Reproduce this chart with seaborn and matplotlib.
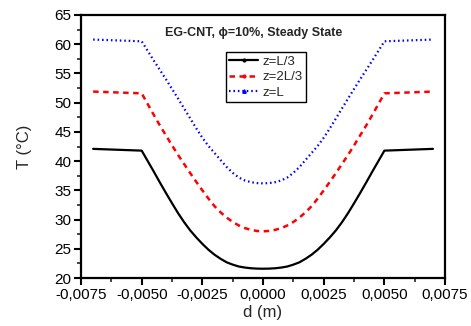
import matplotlib
matplotlib.use("Agg")
import matplotlib.pyplot as plt
import seaborn as sns
import pandas as pd
from matplotlib.lines import Line2D
from matplotlib.ticker import MultipleLocator, FuncFormatter

d = [-0.007, -0.005, -0.00475, -0.0045, -0.00425, -0.004, -0.00375, -0.0035, -0.00325, -0.003,
     -0.00275, -0.0025, -0.00225, -0.002, -0.00175, -0.0015, -0.00125, -0.001, -0.00075, -0.0005,
     -0.00025, 0.0, 0.00025, 0.0005, 0.00075, 0.001, 0.00125, 0.0015, 0.00175, 0.002, 0.00225,
     0.0025, 0.00275, 0.003, 0.00325, 0.0035, 0.00375, 0.004, 0.00425, 0.0045, 0.00475, 0.005, 0.007]
T_L3 = [42.1, 41.8, 40.0, 38.2, 36.35, 34.55, 32.8, 31.1, 29.55, 28.15, 26.95, 25.85, 24.85,
        24.0, 23.3, 22.7, 22.3, 21.98, 21.8, 21.68, 21.62, 21.6, 21.62, 21.68, 21.8, 21.98,
        22.3, 22.7, 23.3, 24.0, 24.85, 25.85, 26.95, 28.15, 29.55, 31.1, 32.8, 34.55, 36.35,
        38.2, 40.0, 41.8, 42.1]
T_2L3 = [51.9, 51.6, 49.75, 47.9, 46.1, 44.4, 42.7, 41.05, 39.5, 37.95, 36.45, 35.0, 33.6,
         32.3, 31.25, 30.35, 29.6, 29.0, 28.55, 28.25, 28.06, 28.0, 28.06, 28.25, 28.55, 29.0,
         29.6, 30.35, 31.25, 32.3, 33.6, 35.0, 36.45, 37.95, 39.5, 41.05, 42.7, 44.4, 46.1,
         47.9, 49.75, 51.6, 51.9]
T_L = [60.8, 60.5, 58.85, 57.2, 55.6, 54.0, 52.35, 50.7, 49.0, 47.3, 45.6, 44.0, 42.6,
       41.4, 40.2, 39.0, 38.0, 37.2, 36.7, 36.4, 36.25, 36.2, 36.25, 36.4, 36.7, 37.2,
       38.0, 39.0, 40.2, 41.4, 42.6, 44.0, 45.6, 47.3, 49.0, 50.7, 52.35, 54.0, 55.6,
       57.2, 58.85, 60.5, 60.8]
labels = ["z=L/3", "z=2L/3", "z=L"]

sns.set_style("ticks")
plt.rcParams['font.family'] = ['Liberation Sans', 'DejaVu Sans']

fig = plt.figure(figsize=(4.71, 3.26), dpi=100)
ax = fig.add_axes([0.172, 0.147, 0.773, 0.807])

df = pd.DataFrame({"d": d * 3, "T": T_L3 + T_2L3 + T_L,
                   "z": [labels[0]] * len(d) + [labels[1]] * len(d) + [labels[2]] * len(d)})

colors = ["black", "#ff0000", "#0000ff"]
styles = [dict(lw=1.6, ls="-"), dict(lw=1.8, ls=(0, (2.2, 1.8))), dict(lw=1.6, ls=(0, (0.7, 1.3)))]
for lab, c, st in zip(labels, colors, styles):
    sub = df[df["z"] == lab]
    sns.lineplot(data=sub, x="d", y="T", ax=ax, color=c, linewidth=st["lw"],
                 linestyle=st["ls"], legend=False, sort=False)

ax.set_xlim(-0.0075, 0.0075)
ax.set_ylim(20, 65)
ax.xaxis.set_major_locator(MultipleLocator(0.0025))
ax.xaxis.set_minor_locator(MultipleLocator(0.00125))
ax.yaxis.set_major_locator(MultipleLocator(5))
ax.yaxis.set_minor_locator(MultipleLocator(2.5))
ax.xaxis.set_major_formatter(FuncFormatter(lambda v, p: f"{v:.4f}".replace(".", ",").replace("-0,0000", "0,0000")))
ax.tick_params(which="major", direction="out", length=5, width=1.5, labelsize=11, pad=2, colors="black")
ax.tick_params(which="minor", direction="out", length=3, width=1.2)
for s in ax.spines.values():
    s.set_linewidth(1.6)
    s.set_color("black")

ax.set_xlabel("d (m)", fontsize=12, labelpad=2)
ax.set_ylabel("T (°C)", fontsize=12, labelpad=16)

ax.text(0.475, 0.955, "EG-CNT, ϕ=10%, Steady State", transform=ax.transAxes,
        ha="center", va="top", fontsize=9, fontweight="bold")

handles = [Line2D([], [], color="black", lw=1.6, ls="-", marker="o", markersize=2),
           Line2D([], [], color="#ff0000", lw=1.8, ls=(0, (2.2, 1.8)), marker="o", markersize=2),
           Line2D([], [], color="#0000ff", lw=1.6, ls=(0, (0.7, 1.3)), marker="^", markersize=2.5)]
leg = ax.legend(handles, labels, loc="upper left", bbox_to_anchor=(0.398, 0.859), fontsize=9.5,
                frameon=True, fancybox=False, edgecolor="black", framealpha=1,
                handlelength=2.2, handletextpad=0.35, borderpad=0.25, labelspacing=0.25,
                borderaxespad=0)
leg.get_frame().set_linewidth(1.0)

fig.savefig("out.png", dpi=100)
